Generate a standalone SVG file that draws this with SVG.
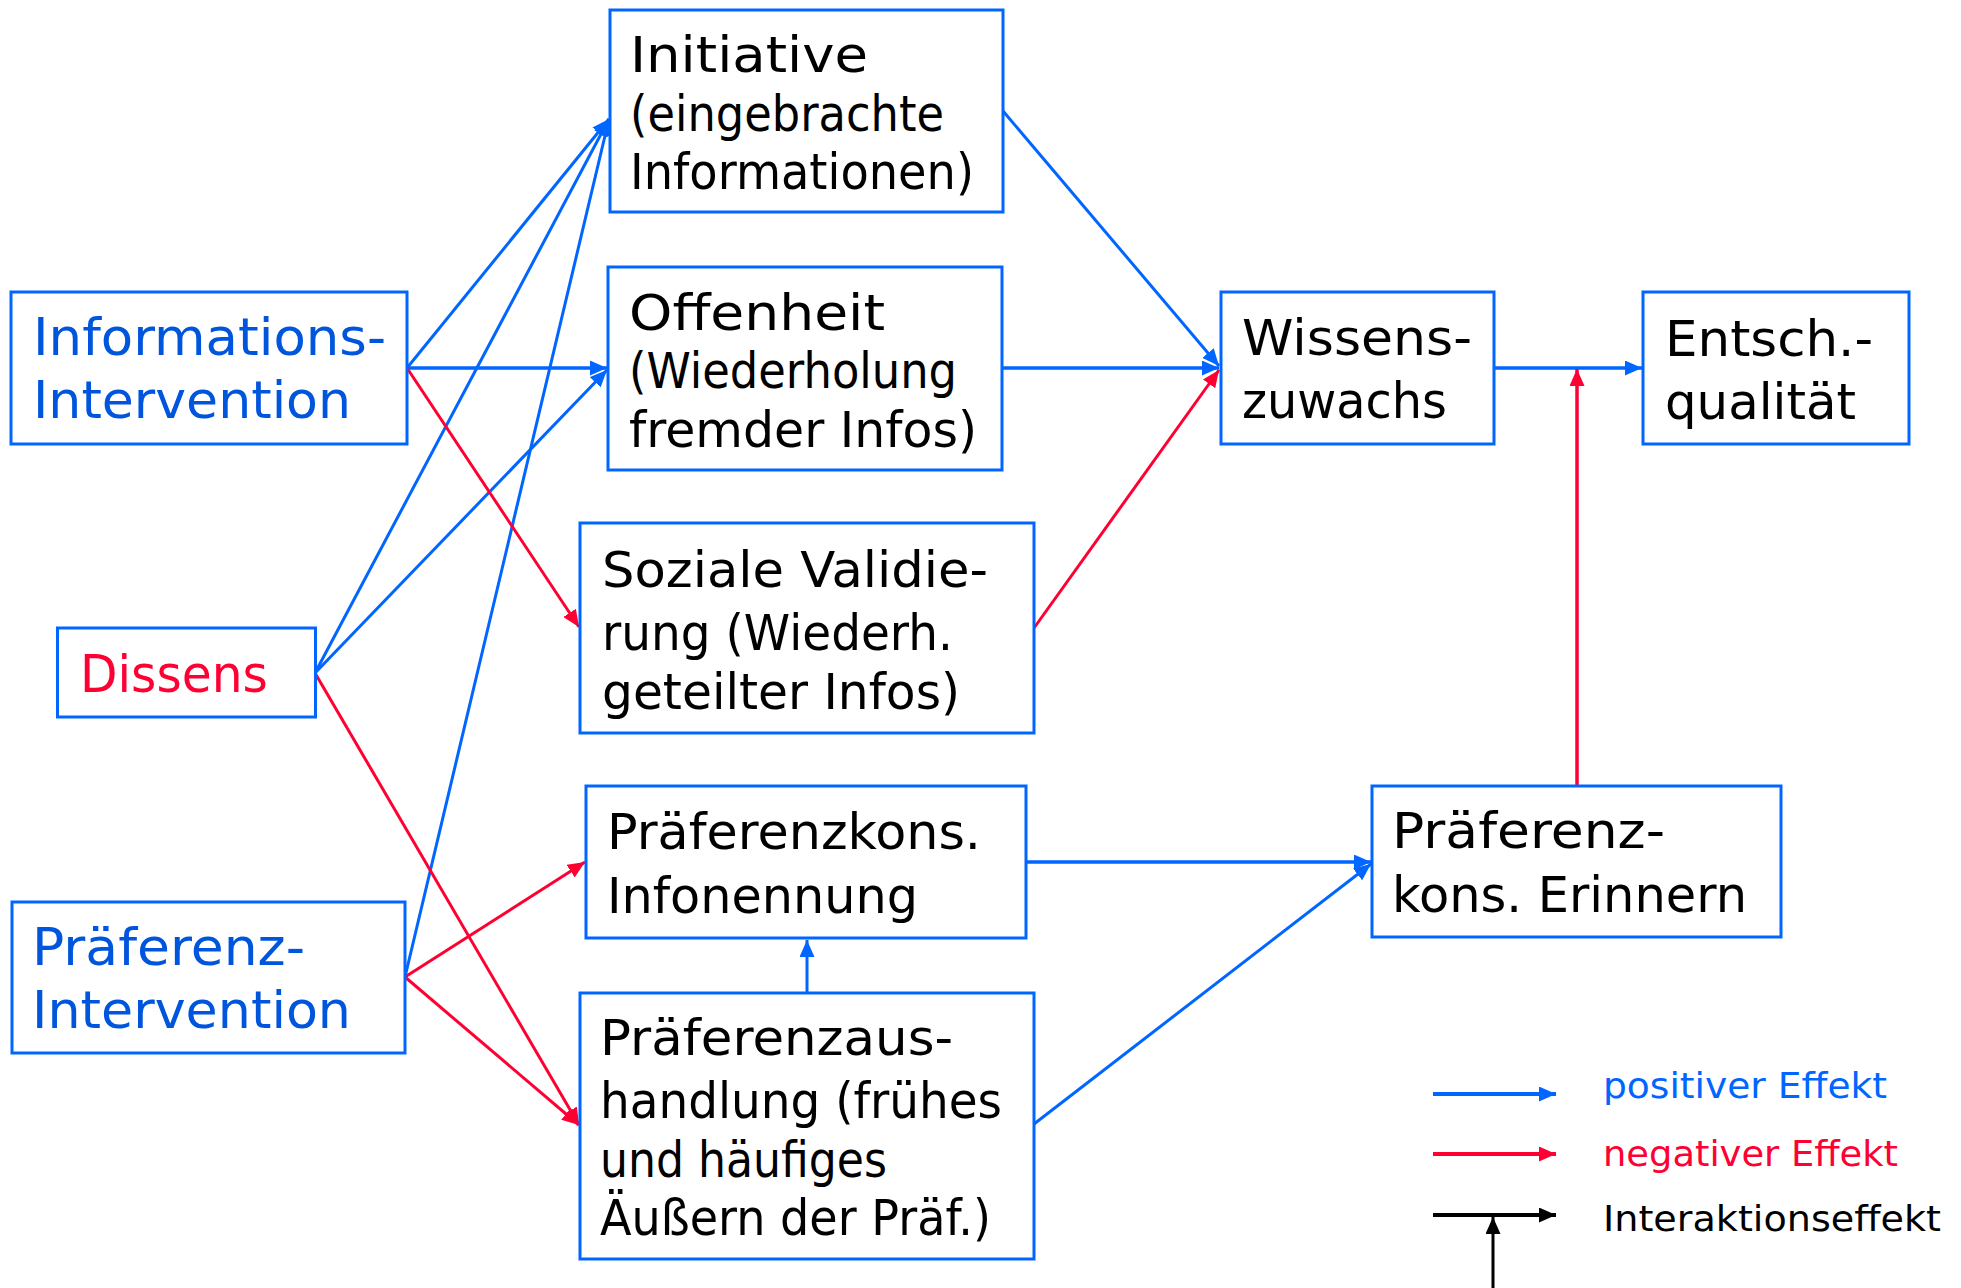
<svg xmlns="http://www.w3.org/2000/svg" width="1961" height="1288" viewBox="0 0 1961 1288">
<style>
.box{fill:#fff;stroke:#0066FF;stroke-width:3}
text{font-family:"DejaVu Sans","Liberation Sans",sans-serif}
.t{font-size:50px;fill:#000}
.tb{font-size:51px;fill:#0055DD}
.tr{font-size:51px;fill:#FF0033}
.lg{font-size:35px}
.pos{stroke:#0066FF;stroke-width:3;fill:none;marker-end:url(#ab)}
.neg{stroke:#FF0033;stroke-width:3;fill:none;marker-end:url(#ar)}
.blk{stroke:#000;stroke-width:3;fill:none;marker-end:url(#ak)}
.h{stroke-width:3.5}
</style>
<defs>
<marker id="ab" markerUnits="userSpaceOnUse" markerWidth="17" markerHeight="15" refX="17" refY="7.5" orient="auto"><path d="M0,0 L17,7.5 L0,15 z" fill="#0066FF"/></marker>
<marker id="ar" markerUnits="userSpaceOnUse" markerWidth="17" markerHeight="15" refX="17" refY="7.5" orient="auto"><path d="M0,0 L17,7.5 L0,15 z" fill="#FF0033"/></marker>
<marker id="ak" markerUnits="userSpaceOnUse" markerWidth="17" markerHeight="15" refX="17" refY="7.5" orient="auto"><path d="M0,0 L17,7.5 L0,15 z" fill="#000"/></marker>
</defs>
<rect width="1961" height="1288" fill="#fff"/>

<g id="connectors">
<line class="pos" x1="407" y1="368" x2="609" y2="119"/>
<line class="pos" x1="315" y1="673" x2="609" y2="119"/>
<line class="pos" x1="405" y1="977" x2="609" y2="119"/>
<line class="pos h" x1="407" y1="368" x2="607" y2="368"/>
<line class="pos" x1="315" y1="673" x2="607" y2="370"/>
<line class="neg" x1="407" y1="368" x2="579" y2="627"/>
<line class="neg" x1="315" y1="673" x2="579" y2="1125"/>
<line class="neg" x1="405" y1="977" x2="585" y2="862"/>
<line class="neg" x1="405" y1="977" x2="579" y2="1125"/>
<line class="pos" x1="1003" y1="111" x2="1219" y2="366"/>
<line class="pos h" x1="1002" y1="368" x2="1219" y2="368"/>
<line class="neg" x1="1034" y1="628" x2="1219" y2="370"/>
<line class="pos h" x1="1494" y1="368" x2="1642" y2="368"/>
<line class="neg h" x1="1577" y1="786" x2="1577" y2="369"/>
<line class="pos h" x1="1026" y1="862" x2="1371" y2="862"/>
<line class="pos" x1="1034" y1="1124" x2="1371" y2="864"/>
<line class="pos" x1="807" y1="993" x2="807" y2="940"/>
</g>

<g id="n-initiative">
<rect class="box" x="610" y="10" width="393" height="202"/>
<text class="t" x="630" y="72" textLength="238" lengthAdjust="spacingAndGlyphs">Initiative</text>
<text class="t" x="630" y="131" textLength="314" lengthAdjust="spacingAndGlyphs">(eingebrachte</text>
<text class="t" x="630" y="189" textLength="344" lengthAdjust="spacingAndGlyphs">Informationen)</text>
</g>
<g id="n-offenheit">
<rect class="box" x="608" y="267" width="394" height="203"/>
<text class="t" x="629" y="330" textLength="256" lengthAdjust="spacingAndGlyphs">Offenheit</text>
<text class="t" x="629" y="388" textLength="328" lengthAdjust="spacingAndGlyphs">(Wiederholung</text>
<text class="t" x="629" y="447" textLength="348" lengthAdjust="spacingAndGlyphs">fremder Infos)</text>
</g>
<g id="n-soziale">
<rect class="box" x="580" y="523" width="454" height="210"/>
<text class="t" x="602" y="587" textLength="386" lengthAdjust="spacingAndGlyphs">Soziale Validie-</text>
<text class="t" x="602" y="650" textLength="351" lengthAdjust="spacingAndGlyphs">rung (Wiederh.</text>
<text class="t" x="602" y="709" textLength="358" lengthAdjust="spacingAndGlyphs">geteilter Infos)</text>
</g>
<g id="n-praefkons">
<rect class="box" x="586" y="786" width="440" height="152"/>
<text class="t" x="607" y="849" textLength="374" lengthAdjust="spacingAndGlyphs">Präferenzkons.</text>
<text class="t" x="607" y="913" textLength="311" lengthAdjust="spacingAndGlyphs">Infonennung</text>
</g>
<g id="n-praefaus">
<rect class="box" x="580" y="993" width="454" height="266"/>
<text class="t" x="600" y="1055" textLength="353" lengthAdjust="spacingAndGlyphs">Präferenzaus-</text>
<text class="t" x="600" y="1118" textLength="402" lengthAdjust="spacingAndGlyphs">handlung (frühes</text>
<text class="t" x="600" y="1177" textLength="287" lengthAdjust="spacingAndGlyphs">und häufiges</text>
<text class="t" x="600" y="1235" textLength="391" lengthAdjust="spacingAndGlyphs">Äußern der Präf.)</text>
</g>
<g id="n-wissen">
<rect class="box" x="1221" y="292" width="273" height="152"/>
<text class="t" x="1242" y="355" textLength="230" lengthAdjust="spacingAndGlyphs">Wissens-</text>
<text class="t" x="1242" y="418" textLength="205" lengthAdjust="spacingAndGlyphs">zuwachs</text>
</g>
<g id="n-entsch">
<rect class="box" x="1643" y="292" width="266" height="152"/>
<text class="t" x="1665" y="356" textLength="208" lengthAdjust="spacingAndGlyphs">Entsch.-</text>
<text class="t" x="1665" y="419" textLength="191" lengthAdjust="spacingAndGlyphs">qualität</text>
</g>
<g id="n-erinnern">
<rect class="box" x="1372" y="786" width="409" height="151"/>
<text class="t" x="1392" y="848" textLength="273" lengthAdjust="spacingAndGlyphs">Präferenz-</text>
<text class="t" x="1392" y="912" textLength="355" lengthAdjust="spacingAndGlyphs">kons. Erinnern</text>
</g>
<g id="n-infoint">
<rect class="box" x="11" y="292" width="396" height="152"/>
<text class="tb" x="33" y="355" textLength="353" lengthAdjust="spacingAndGlyphs">Informations-</text>
<text class="tb" x="33" y="418" textLength="318" lengthAdjust="spacingAndGlyphs">Intervention</text>
</g>
<g id="n-dissens">
<rect class="box" x="57.5" y="628" width="258" height="89"/>
<text class="tr" x="80" y="692" textLength="188" lengthAdjust="spacingAndGlyphs">Dissens</text>
</g>
<g id="n-praefint">
<rect class="box" x="12" y="902" width="393" height="151"/>
<text class="tb" x="32" y="965" textLength="273" lengthAdjust="spacingAndGlyphs">Präferenz-</text>
<text class="tb" x="32" y="1028" textLength="319" lengthAdjust="spacingAndGlyphs">Intervention</text>
</g>

<g id="legend">
<line class="pos" style="stroke-width:4" x1="1433" y1="1094" x2="1556" y2="1094"/>
<line class="neg" style="stroke-width:4" x1="1433" y1="1154" x2="1556" y2="1154"/>
<line class="blk" style="stroke-width:4" x1="1433" y1="1215" x2="1556" y2="1215"/>
<line class="blk" x1="1493" y1="1288" x2="1493" y2="1217"/>
<text class="lg" x="1603" y="1098" fill="#0066FF" textLength="284" lengthAdjust="spacingAndGlyphs">positiver Effekt</text>
<text class="lg" x="1603" y="1166" fill="#FF0033" textLength="295" lengthAdjust="spacingAndGlyphs">negativer Effekt</text>
<text class="lg" x="1603" y="1231" fill="#000" textLength="338" lengthAdjust="spacingAndGlyphs">Interaktionseffekt</text>
</g>
</svg>
